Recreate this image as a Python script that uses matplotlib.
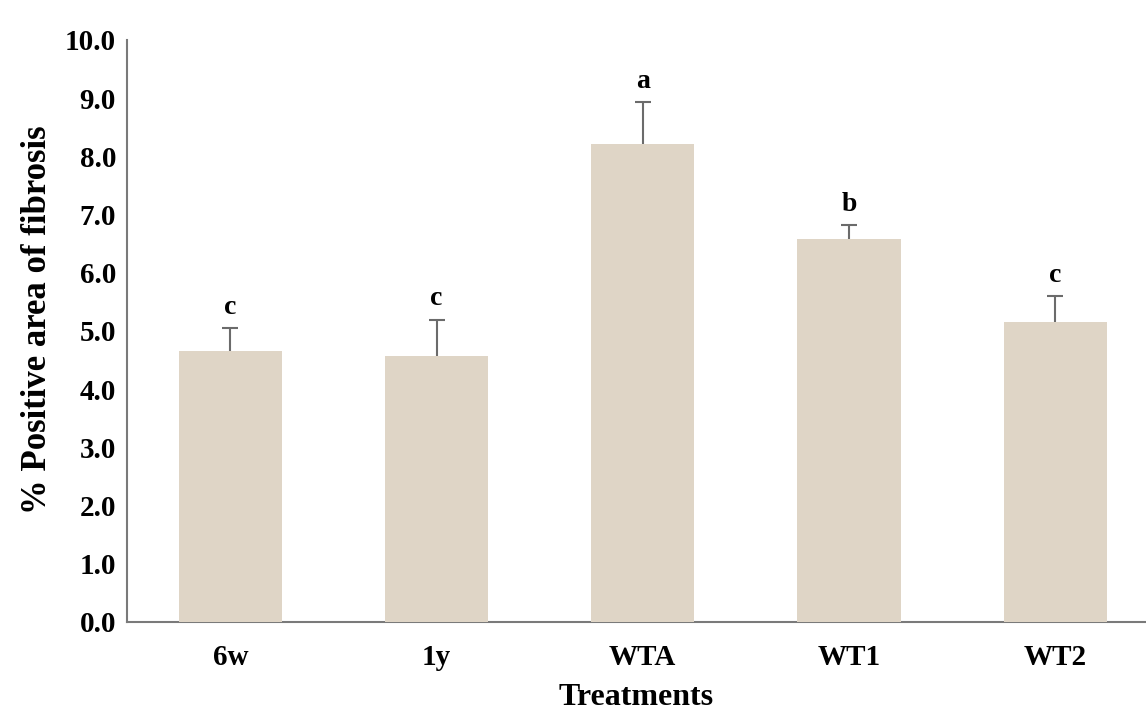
import matplotlib
matplotlib.use("Agg")
import matplotlib.pyplot as plt

categories = ["6w", "1y", "WTA", "WT1", "WT2"]
means = [4.65, 4.57, 8.21, 6.58, 5.15]
errors = [0.40, 0.62, 0.72, 0.24, 0.45]
letters = ["c", "c", "a", "b", "c"]
yticks = [0, 1, 2, 3, 4, 5, 6, 7, 8, 9, 10]

plt.rcParams['font.family'] = ['Liberation Serif', 'DejaVu Serif']

fig = plt.figure(figsize=(11.46, 7.13), dpi=100)
ax = fig.add_axes([0.111, 0.128, 0.889, 0.816])

x = list(range(len(categories)))
tops = [m + e for m, e in zip(means, errors)]
ax.bar(x, means, width=0.5, color="#DFD5C6", edgecolor="none", zorder=3)
ax.vlines(x, means, tops, color="#6b6b6b", linewidth=1.5, zorder=2)
ax.plot(x, tops, linestyle="none", marker="_", markersize=12,
        markeredgewidth=1.5, color="#6b6b6b", zorder=2)

for xi, t, l in zip(x, tops, letters):
    ax.annotate(l, (xi, t), xytext=(0, 6), textcoords="offset points",
                ha="center", va="bottom", fontsize=20, fontweight="bold")

ax.set_xlim(-0.5, 4.44)
ax.set_ylim(0, 10)
ax.set_yticks(yticks)
ax.set_yticklabels([f"{v:.1f}" for v in yticks], fontsize=21, fontweight="bold")
ax.set_xticks(x)
ax.set_xticklabels(categories, fontsize=21, fontweight="bold")
ax.tick_params(axis="y", length=0, pad=8)
ax.tick_params(axis="x", length=0, pad=16)

for s in ["top", "right"]:
    ax.spines[s].set_visible(False)
for s in ["left", "bottom"]:
    ax.spines[s].set_color("#7a7a7a")
    ax.spines[s].set_linewidth(1.5)

ax.set_ylabel("% Positive area of fibrosis", fontsize=25, fontweight="bold", labelpad=8)
ax.yaxis.label.set_y(0.52)
ax.set_xlabel("Treatments", fontsize=23, fontweight="bold", labelpad=9)

fig.savefig("out.png", dpi=100)
